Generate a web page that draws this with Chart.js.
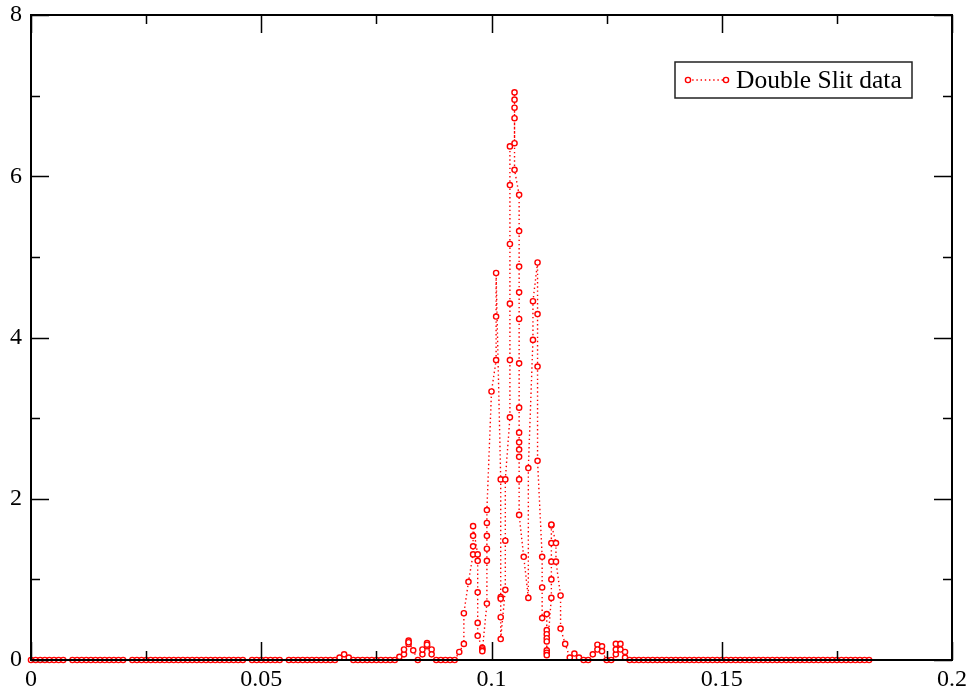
<!DOCTYPE html>
<html>
<head>
<meta charset="utf-8">
<script src="https://cdn.jsdelivr.net/npm/chart.js@4.4.1/dist/chart.umd.min.js"></script>
<style>
  html, body { margin: 0; padding: 0; background: #fff; }
  #wrap { width: 972px; height: 691px; }
</style>
</head>
<body>
<div id="wrap"><canvas id="myChart" width="972" height="691"></canvas></div>
<script>
// detector position (x) and reading (y), in scan order
const slitX = [
  0.000, 0.001, 0.002, 0.003, 0.004, 0.005, 0.006, 0.007,
  0.009, 0.010, 0.011, 0.012, 0.013, 0.014, 0.015, 0.016, 0.017, 0.018, 0.019, 0.020,
  0.022, 0.023, 0.024, 0.025, 0.026, 0.027, 0.028, 0.029, 0.030, 0.031, 0.032, 0.033, 0.034,
  0.035, 0.036, 0.037, 0.038, 0.039, 0.040, 0.041, 0.042, 0.043, 0.044, 0.045, 0.046,
  0.048, 0.049, 0.050, 0.051, 0.052, 0.053, 0.054,
  0.056, 0.057, 0.058, 0.059, 0.060, 0.061, 0.062, 0.063, 0.064, 0.065, 0.066,
  0.067, 0.068, 0.069,
  0.070, 0.071, 0.072, 0.073, 0.074, 0.075, 0.076, 0.077, 0.078, 0.079,
  0.080, 0.081, 0.081, 0.082, 0.082, 0.082, 0.083, 0.084, 0.085, 0.085,
  0.086, 0.086, 0.086, 0.087, 0.087,
  0.088, 0.089, 0.090, 0.091, 0.092,
  0.093, 0.094, 0.094, 0.095,
  0.096, 0.096, 0.096, 0.096,
  0.097, 0.097, 0.097, 0.097, 0.097,
  0.098, 0.098, 0.098,
  0.099, 0.099, 0.099, 0.099, 0.099, 0.099,
  0.100,
  0.101, 0.101, 0.101,
  0.102, 0.102, 0.102, 0.102, 0.102,
  0.103, 0.103, 0.103,
  0.104, 0.104, 0.104, 0.104, 0.104, 0.104,
  0.105, 0.105, 0.105, 0.105, 0.105, 0.105,
  0.106, 0.106, 0.106, 0.106, 0.106, 0.106, 0.106, 0.106, 0.106, 0.106, 0.106, 0.106, 0.106,
  0.107,
  0.108, 0.108,
  0.109, 0.109,
  0.110, 0.110, 0.110, 0.110,
  0.111, 0.111, 0.111,
  0.112, 0.112, 0.112, 0.112, 0.112, 0.112, 0.112, 0.112,
  0.113, 0.113, 0.113, 0.113, 0.113, 0.113,
  0.114, 0.114,
  0.115, 0.115,
  0.116, 0.117, 0.118, 0.119, 0.120, 0.121,
  0.122, 0.123, 0.123, 0.124, 0.124, 0.125, 0.126,
  0.127, 0.127, 0.127, 0.128, 0.128, 0.129, 0.129,
  0.130, 0.131, 0.132, 0.133, 0.134, 0.135, 0.136, 0.137, 0.138, 0.139,
  0.140, 0.141, 0.142, 0.143, 0.144, 0.145, 0.146, 0.147, 0.148, 0.149,
  0.150, 0.151, 0.152, 0.153, 0.154, 0.155, 0.156, 0.157, 0.158, 0.159,
  0.160, 0.161, 0.162, 0.163, 0.164, 0.165, 0.166, 0.167, 0.168, 0.169,
  0.170, 0.171, 0.172, 0.173, 0.174, 0.175, 0.176, 0.177, 0.178, 0.179,
  0.180, 0.181, 0.182
];
const slitY = [
  0, 0, 0, 0, 0, 0, 0, 0,
  0, 0, 0, 0, 0, 0, 0, 0, 0, 0, 0, 0,
  0, 0, 0, 0, 0, 0, 0, 0, 0, 0, 0, 0, 0,
  0, 0, 0, 0, 0, 0, 0, 0, 0, 0, 0, 0,
  0, 0, 0, 0, 0, 0, 0,
  0, 0, 0, 0, 0, 0, 0, 0, 0, 0, 0,
  0.03, 0.07, 0.03,
  0, 0, 0, 0, 0, 0, 0, 0, 0, 0,
  0.04, 0.07, 0.13, 0.20, 0.24, 0.22, 0.12, 0.0, 0.07, 0.13,
  0.17, 0.21, 0.19, 0.13, 0.07,
  0, 0, 0, 0, 0,
  0.10, 0.20, 0.58, 0.97,
  1.31, 1.41, 1.54, 1.66,
  1.31, 1.23, 0.84, 0.46, 0.30,
  0.15, 0.13, 0.11,
  0.70, 1.23, 1.38, 1.54, 1.70, 1.86,
  3.33,
  3.72, 4.26, 4.80,
  2.24, 0.78, 0.76, 0.53, 0.26,
  0.87, 1.48, 2.24,
  3.01, 3.72, 4.42, 5.16, 5.89, 6.37,
  6.41, 6.72, 6.85, 6.95, 7.04, 6.08,
  5.77, 5.32, 4.88, 4.56, 4.23, 3.68, 3.13, 2.82, 2.70, 2.61, 2.52, 2.24, 1.80,
  1.28,
  0.77, 2.38,
  3.97, 4.45,
  4.93, 4.29, 3.64, 2.47,
  1.28, 0.90, 0.52,
  0.57, 0.37, 0.32, 0.27, 0.23, 0.12, 0.09, 0.06,
  0.77, 1.00, 1.22, 1.45, 1.67, 1.68,
  1.45, 1.22,
  0.80, 0.39,
  0.20, 0.03, 0.08, 0.03, 0, 0,
  0.07, 0.19, 0.13, 0.17, 0.11, 0, 0,
  0.07, 0.13, 0.20, 0.20, 0.13, 0.10, 0.03,
  0, 0, 0, 0, 0, 0, 0, 0, 0, 0,
  0, 0, 0, 0, 0, 0, 0, 0, 0, 0,
  0, 0, 0, 0, 0, 0, 0, 0, 0, 0,
  0, 0, 0, 0, 0, 0, 0, 0, 0, 0,
  0, 0, 0, 0, 0, 0, 0, 0, 0, 0,
  0, 0, 0
];
const xTicks = [0, 0.05, 0.1, 0.15, 0.2];
const xMinor = [0.025, 0.075, 0.125, 0.175];
const yTicks = [0, 2, 4, 6, 8];
const yMinor = [1, 3, 5, 7];
const seriesName = 'Double Slit data';

const RED = '#ff0000';
const FONT = '"Liberation Serif", "Times New Roman", serif';

// frame, inward ticks and boxed legend, drawn like the original xmgrace plot
const framePlugin = {
    id: 'frame',
    afterDraw(chart) {
        const c = chart.ctx;
        const a = chart.chartArea;
        const xs = chart.scales.x, ys = chart.scales.y;
        c.save();
        c.strokeStyle = '#000';
        c.lineWidth = 2;
        c.strokeRect(a.left, a.top, a.right - a.left, a.bottom - a.top);
        c.lineWidth = 1.5;
        c.beginPath();
        const tx = (vals, len) => vals.forEach(v => {
            const p = Math.round(xs.getPixelForValue(v)) + 0.5;
            c.moveTo(p, a.bottom); c.lineTo(p, a.bottom - len);
            c.moveTo(p, a.top); c.lineTo(p, a.top + len);
        });
        const ty = (vals, len) => vals.forEach(v => {
            const p = Math.round(ys.getPixelForValue(v)) + 0.5;
            c.moveTo(a.left, p); c.lineTo(a.left + len, p);
            c.moveTo(a.right, p); c.lineTo(a.right - len, p);
        });
        tx(xTicks, 18); tx(xMinor, 9);
        ty(yTicks, 18); ty(yMinor, 9);
        c.stroke();

        // legend box
        const ds = chart.data.datasets[0];
        const bx = 675, by = 62, bw = 237, bh = 36;
        c.lineWidth = 1.5;
        c.strokeStyle = '#222';
        c.fillStyle = '#fff';
        c.fillRect(bx, by, bw, bh);
        c.strokeRect(bx, by, bw, bh);
        const ly = by + bh / 2;
        c.strokeStyle = RED;
        c.lineWidth = 1.4;
        c.setLineDash([1.4, 2.8]);
        c.beginPath();
        c.moveTo(688, ly); c.lineTo(726, ly);
        c.stroke();
        c.setLineDash([]);
        [688, 726].forEach(px => {
            c.beginPath();
            c.arc(px, ly, 2.6, 0, Math.PI * 2);
            c.fillStyle = '#fff';
            c.fill();
            c.stroke();
        });
        c.fillStyle = '#000';
        c.font = '25.5px ' + FONT;
        c.textBaseline = 'middle';
        c.textAlign = 'left';
        c.fillText(ds.label, 736, ly + 1);
        c.restore();
    }
};

const noPad = s => { s.paddingTop = 0; s.paddingBottom = 0; s.paddingLeft = 0; s.paddingRight = 0; };

const ctx = document.getElementById('myChart').getContext('2d');
const points = slitX.map((x, i) => ({ x: x, y: slitY[i] }));

const myChart = new Chart(ctx, {
    type: 'scatter',
    data: {
        datasets: [{
            label: seriesName,
            data: points,
            showLine: true,
            borderColor: RED,
            borderWidth: 1.4,
            borderDash: [1.4, 2.8],
            pointRadius: 2.6,
            pointBorderWidth: 1.4,
            pointBorderColor: RED,
            pointBackgroundColor: '#fff',
            pointHoverRadius: 2.6,
            clip: 6
        }]
    },
    options: {
        responsive: false,
        animation: false,
        events: [],
        layout: { padding: { top: 15, right: 20, left: 0, bottom: 0 } },
        plugins: {
            legend: { display: false },
            tooltip: { enabled: false }
        },
        scales: {
            x: {
                type: 'linear',
                min: 0,
                max: 0.2,
                afterBuildTicks: s => { s.ticks = xTicks.map(v => ({ value: v })); },
                afterFit: s => { s.height = 31; noPad(s); },
                grid: { display: false, drawTicks: false },
                border: { display: false },
                ticks: {
                    color: '#000',
                    padding: 5,
                    maxRotation: 0,
                    autoSkip: false,
                    font: { family: FONT, size: 24 },
                    callback: v => String(v)
                }
            },
            y: {
                type: 'linear',
                min: 0,
                max: 8,
                afterBuildTicks: s => { s.ticks = yTicks.map(v => ({ value: v })); },
                afterFit: s => { s.width = 31; noPad(s); },
                grid: { display: false, drawTicks: false },
                border: { display: false },
                ticks: {
                    color: '#000',
                    padding: 9,
                    autoSkip: false,
                    font: { family: FONT, size: 24 },
                    callback: v => String(v)
                }
            }
        }
    },
    plugins: [framePlugin]
});
</script>
</body>
</html>
